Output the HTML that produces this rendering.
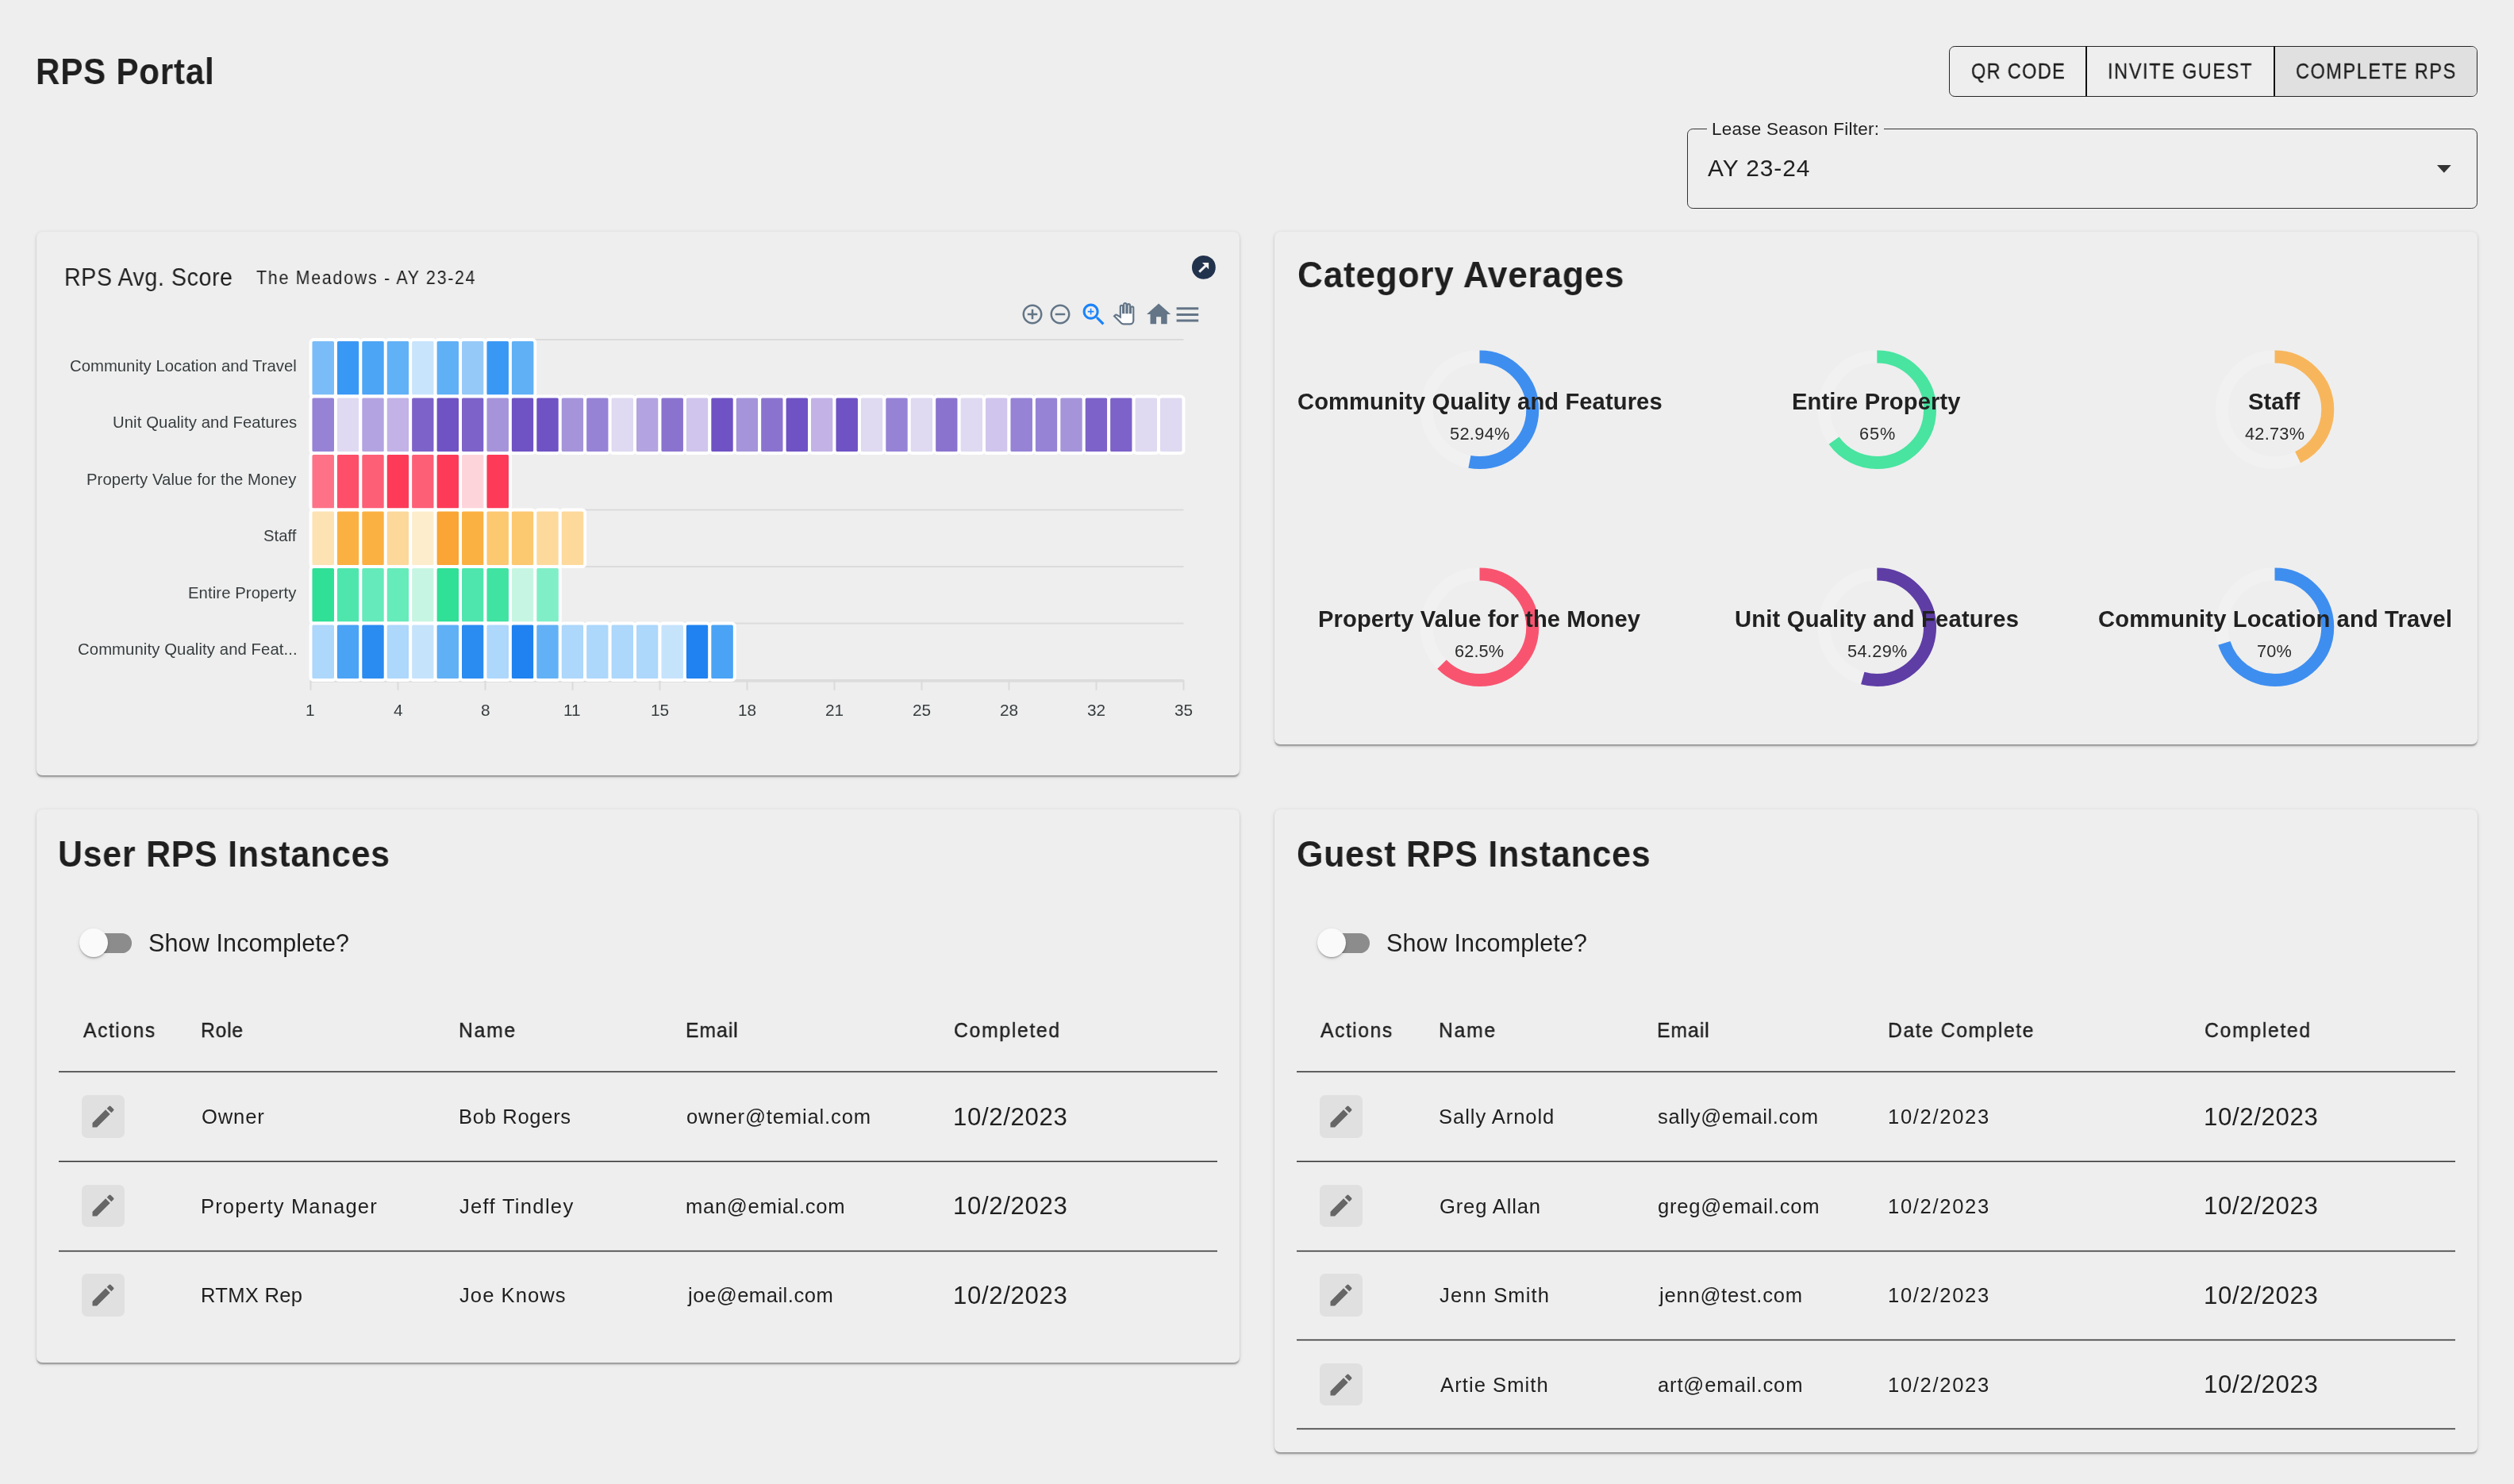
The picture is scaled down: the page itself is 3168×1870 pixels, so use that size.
<!DOCTYPE html>
<html><head><meta charset="utf-8"><title>RPS Portal</title>
<style>
html,body{margin:0;padding:0;width:3168px;height:1870px;overflow:hidden;background:#eeeeee;}
body{position:relative;font-family:"Liberation Sans",sans-serif;}
.t{position:absolute;white-space:nowrap;line-height:1;will-change:transform;}
</style></head><body>
<div style="position:absolute;left:46px;top:291.5px;width:1516px;height:685.0px;background:#eeeeee;border-radius:7.2px;box-shadow:0 3.6px 1.8px -1.8px rgba(0,0,0,.2),0 1.8px 1.8px 0 rgba(0,0,0,.14),0 1.8px 5.4px 0 rgba(0,0,0,.12);"></div>
<div style="position:absolute;left:1606px;top:291.5px;width:1516px;height:646.5px;background:#eeeeee;border-radius:7.2px;box-shadow:0 3.6px 1.8px -1.8px rgba(0,0,0,.2),0 1.8px 1.8px 0 rgba(0,0,0,.14),0 1.8px 5.4px 0 rgba(0,0,0,.12);"></div>
<div style="position:absolute;left:46px;top:1019.5px;width:1516px;height:697.0px;background:#eeeeee;border-radius:7.2px;box-shadow:0 3.6px 1.8px -1.8px rgba(0,0,0,.2),0 1.8px 1.8px 0 rgba(0,0,0,.14),0 1.8px 5.4px 0 rgba(0,0,0,.12);"></div>
<div style="position:absolute;left:1606px;top:1019.5px;width:1516px;height:810.5px;background:#eeeeee;border-radius:7.2px;box-shadow:0 3.6px 1.8px -1.8px rgba(0,0,0,.2),0 1.8px 1.8px 0 rgba(0,0,0,.14),0 1.8px 5.4px 0 rgba(0,0,0,.12);"></div>
<div class="t" style="left:44.90px;top:68.17px;font-size:45.78px;color:#1f1f1f;font-weight:bold;letter-spacing:0.855px;transform:scaleX(0.92);transform-origin:0 0;">RPS Portal</div>
<div style="position:absolute;left:2456.2px;top:57.6px;width:665.8px;height:64px;box-sizing:border-box;border:1.7px solid #262626;border-radius:7.2px;overflow:hidden;"><div style="position:absolute;left:409px;top:0;right:0;bottom:0;background:#e0e0e0"></div></div>
<div style="position:absolute;left:2627.9px;top:58px;width:2.1px;height:63.2px;background:#111"></div>
<div style="position:absolute;left:2864.9px;top:58px;width:2.1px;height:63.2px;background:#111"></div>
<div class="t" style="left:2483.80px;top:76.23px;font-size:27.33px;color:#1f1f1f;letter-spacing:1.574px;-webkit-text-stroke:0.3px #1f1f1f;transform:scaleX(0.86);transform-origin:0 0;">QR CODE</div>
<div class="t" style="left:2656.00px;top:76.23px;font-size:27.33px;color:#1f1f1f;letter-spacing:1.924px;-webkit-text-stroke:0.3px #1f1f1f;transform:scaleX(0.86);transform-origin:0 0;">INVITE GUEST</div>
<div class="t" style="left:2893.00px;top:76.23px;font-size:27.33px;color:#1f1f1f;letter-spacing:1.808px;-webkit-text-stroke:0.3px #1f1f1f;transform:scaleX(0.86);transform-origin:0 0;">COMPLETE RPS</div>
<div style="position:absolute;left:2126.2px;top:161.8px;width:995.8px;height:101px;box-sizing:border-box;border:1.7px solid #333;border-radius:7.2px;"></div>
<div style="position:absolute;left:2151px;top:158px;width:223px;height:8px;background:#eeeeee"></div>
<div class="t" style="left:2157.30px;top:151.80px;font-size:22.53px;color:#1f1f1f;letter-spacing:0.232px;">Lease Season Filter:</div>
<div class="t" style="left:2151.80px;top:196.51px;font-size:29.94px;color:#1f1f1f;letter-spacing:0.914px;">AY 23-24</div>
<svg style="position:absolute;left:3070.5px;top:208.3px" width="18" height="10" viewBox="0 0 18 10"><path d="M0 0h17.7L8.85 9.8z" fill="#333"/></svg>
<div class="t" style="left:81.40px;top:335.07px;font-size:30.81px;color:#1f1f1f;letter-spacing:0.585px;transform:scaleX(0.93);transform-origin:0 0;">RPS Avg. Score</div>
<div class="t" style="left:323.30px;top:338.58px;font-size:23.26px;color:#1f1f1f;letter-spacing:1.874px;transform:scaleX(0.92);transform-origin:0 0;">The Meadows - AY 23-24</div>
<svg style="position:absolute;left:1500px;top:320px" width="34" height="34" viewBox="1500 320 34 34"><circle cx="1516.9" cy="336.9" r="14.9" fill="#21324d"/><path d="M1514.9 331H1523.1V339.2z" fill="#f0f0f0"/><line x1="1519.6" y1="334.6" x2="1511.2" y2="342.6" stroke="#f0f0f0" stroke-width="3"/></svg>
<svg style="position:absolute;left:1285.50px;top:380.70px;overflow:visible" width="30.00" height="30.00" viewBox="0 0 24 24"><path d="M13 7h-2v4H7v2h4v4h2v-4h4v-2h-4V7zm-1-5C6.48 2 2 6.48 2 12s4.48 10 10 10 10-4.48 10-10S17.52 2 12 2zm0 18c-4.41 0-8-3.59-8-8s3.59-8 8-8 8 3.59 8 8-3.59 8-8 8z" fill="#637587" /></svg>
<svg style="position:absolute;left:1321.40px;top:380.70px;overflow:visible" width="30.00" height="30.00" viewBox="0 0 24 24"><path d="M7 11v2h10v-2H7zm5-9C6.48 2 2 6.48 2 12s4.48 10 10 10 10-4.48 10-10S17.52 2 12 2zm0 18c-4.41 0-8-3.59-8-8s3.59-8 8-8 8 3.59 8 8-3.59 8-8 8z" fill="#637587" /></svg>
<svg style="position:absolute;left:1360.40px;top:378.30px;overflow:visible" width="36.96" height="36.96" viewBox="0 0 24 24"><path d="M15.5 14h-.79l-.28-.27C15.41 12.59 16 11.11 16 9.5 16 5.910 13.09 3 9.5 3S3 5.91 3 9.5 5.91 16 9.5 16c1.61 0 3.09-.59 4.23-1.57l.27.28v.79l5 4.99L20.49 19l-4.99-5zm-6 0C7.01 14 5 11.99 5 9.5S7.01 5 9.5 5 14 7.01 14 9.5 11.99 14 9.5 14zM12 10h-2v2H9v-2H7V9h2V7h1v2h2v1z" fill="#1a83fa" /></svg>
<svg style="position:absolute;left:1402.90px;top:382.30px;overflow:visible" width="26.40" height="26.40" viewBox="0 0 24 24"><path d="M23 5.5V20c0 2.2-1.8 4-4 4h-7.3c-1.08 0-2.1-.43-2.85-1.190L1 14.83s1.26-1.23 1.3-1.25c.22-.19.49-.29.79-.29.22 0 .42.06.6.16.04.01 4.31 2.46 4.31 2.46V4c0-.83.67-1.5 1.5-1.5S11 3.17 11 4v7h1V1.5c0-.83.67-1.5 1.5-1.5S15 .67 15 1.5V11h1V2.5c0-.83.67-1.5 1.5-1.5s1.5.67 1.5 1.5V11h1V5.5c0-.83.67-1.5 1.5-1.5s1.5.67 1.5 1.5z" fill="#fff" stroke="#637587" stroke-width="2"/></svg>
<svg style="position:absolute;left:1441.90px;top:378.40px;overflow:visible" width="36.24" height="36.24" viewBox="0 0 24 24"><path d="M10 20v-6h4v6h5v-8h3L12 3 2 12h3v8z" fill="#637587" /></svg>
<svg style="position:absolute;left:1477.50px;top:378.40px;overflow:visible" width="36.84" height="36.84" viewBox="0 0 24 24"><path d="M3 18h18v-2H3v2zm0-5h18v-2H3v2zm0-7v2h18V6H3z" fill="#637587" /></svg>
<svg style="position:absolute;left:0;top:0" width="1600" height="1000" viewBox="0 0 1600 1000"><line x1="391.5" x2="1491.5" y1="428.0" y2="428.0" stroke="#dbdbdb" stroke-width="1.9"/><line x1="391.5" x2="1491.5" y1="499.5" y2="499.5" stroke="#dbdbdb" stroke-width="1.9"/><line x1="391.5" x2="1491.5" y1="571.0" y2="571.0" stroke="#dbdbdb" stroke-width="1.9"/><line x1="391.5" x2="1491.5" y1="642.5" y2="642.5" stroke="#dbdbdb" stroke-width="1.9"/><line x1="391.5" x2="1491.5" y1="714.0" y2="714.0" stroke="#dbdbdb" stroke-width="1.9"/><line x1="391.5" x2="1491.5" y1="785.5" y2="785.5" stroke="#dbdbdb" stroke-width="1.9"/><line x1="391.5" x2="1491.5" y1="857.0" y2="857.0" stroke="#dbdbdb" stroke-width="1.9"/><line x1="391.5" x2="1491.5" y1="858.7" y2="858.7" stroke="#dddddd" stroke-width="2"/><line x1="391.5" x2="391.5" y1="857.0" y2="869.8" stroke="#dbdbdb" stroke-width="2"/><line x1="501.5" x2="501.5" y1="857.0" y2="869.8" stroke="#dbdbdb" stroke-width="2"/><line x1="611.5" x2="611.5" y1="857.0" y2="869.8" stroke="#dbdbdb" stroke-width="2"/><line x1="721.5" x2="721.5" y1="857.0" y2="869.8" stroke="#dbdbdb" stroke-width="2"/><line x1="831.5" x2="831.5" y1="857.0" y2="869.8" stroke="#dbdbdb" stroke-width="2"/><line x1="941.5" x2="941.5" y1="857.0" y2="869.8" stroke="#dbdbdb" stroke-width="2"/><line x1="1051.5" x2="1051.5" y1="857.0" y2="869.8" stroke="#dbdbdb" stroke-width="2"/><line x1="1161.5" x2="1161.5" y1="857.0" y2="869.8" stroke="#dbdbdb" stroke-width="2"/><line x1="1271.5" x2="1271.5" y1="857.0" y2="869.8" stroke="#dbdbdb" stroke-width="2"/><line x1="1381.5" x2="1381.5" y1="857.0" y2="869.8" stroke="#dbdbdb" stroke-width="2"/><line x1="1491.5" x2="1491.5" y1="857.0" y2="869.8" stroke="#dbdbdb" stroke-width="2"/><rect x="391.50" y="428.00" width="31.43" height="71.50" rx="3.6" fill="#7abcf8" stroke="#fff" stroke-width="3.9"/><rect x="422.93" y="428.00" width="31.43" height="71.50" rx="3.6" fill="#3a98f5" stroke="#fff" stroke-width="3.9"/><rect x="454.36" y="428.00" width="31.43" height="71.50" rx="3.6" fill="#4da5f5" stroke="#fff" stroke-width="3.9"/><rect x="485.79" y="428.00" width="31.43" height="71.50" rx="3.6" fill="#61b1f6" stroke="#fff" stroke-width="3.9"/><rect x="517.21" y="428.00" width="31.43" height="71.50" rx="3.6" fill="#c8e4fc" stroke="#fff" stroke-width="3.9"/><rect x="548.64" y="428.00" width="31.43" height="71.50" rx="3.6" fill="#60b0f6" stroke="#fff" stroke-width="3.9"/><rect x="580.07" y="428.00" width="31.43" height="71.50" rx="3.6" fill="#95c9f8" stroke="#fff" stroke-width="3.9"/><rect x="611.50" y="428.00" width="31.43" height="71.50" rx="3.6" fill="#3a98f5" stroke="#fff" stroke-width="3.9"/><rect x="642.93" y="428.00" width="31.43" height="71.50" rx="3.6" fill="#60b0f6" stroke="#fff" stroke-width="3.9"/><rect x="391.50" y="499.50" width="31.43" height="71.50" rx="3.6" fill="#9683d6" stroke="#fff" stroke-width="3.9"/><rect x="422.93" y="499.50" width="31.43" height="71.50" rx="3.6" fill="#dfd9f1" stroke="#fff" stroke-width="3.9"/><rect x="454.36" y="499.50" width="31.43" height="71.50" rx="3.6" fill="#b3a3e0" stroke="#fff" stroke-width="3.9"/><rect x="485.79" y="499.50" width="31.43" height="71.50" rx="3.6" fill="#c2b2e6" stroke="#fff" stroke-width="3.9"/><rect x="517.21" y="499.50" width="31.43" height="71.50" rx="3.6" fill="#7d62c9" stroke="#fff" stroke-width="3.9"/><rect x="548.64" y="499.50" width="31.43" height="71.50" rx="3.6" fill="#6f52c4" stroke="#fff" stroke-width="3.9"/><rect x="580.07" y="499.50" width="31.43" height="71.50" rx="3.6" fill="#7d62c9" stroke="#fff" stroke-width="3.9"/><rect x="611.50" y="499.50" width="31.43" height="71.50" rx="3.6" fill="#a594da" stroke="#fff" stroke-width="3.9"/><rect x="642.93" y="499.50" width="31.43" height="71.50" rx="3.6" fill="#6f52c4" stroke="#fff" stroke-width="3.9"/><rect x="674.36" y="499.50" width="31.43" height="71.50" rx="3.6" fill="#6f52c4" stroke="#fff" stroke-width="3.9"/><rect x="705.79" y="499.50" width="31.43" height="71.50" rx="3.6" fill="#a594da" stroke="#fff" stroke-width="3.9"/><rect x="737.21" y="499.50" width="31.43" height="71.50" rx="3.6" fill="#9683d6" stroke="#fff" stroke-width="3.9"/><rect x="768.64" y="499.50" width="31.43" height="71.50" rx="3.6" fill="#dfd9f1" stroke="#fff" stroke-width="3.9"/><rect x="800.07" y="499.50" width="31.43" height="71.50" rx="3.6" fill="#b3a3e0" stroke="#fff" stroke-width="3.9"/><rect x="831.50" y="499.50" width="31.43" height="71.50" rx="3.6" fill="#8a73cf" stroke="#fff" stroke-width="3.9"/><rect x="862.93" y="499.50" width="31.43" height="71.50" rx="3.6" fill="#d0c5ec" stroke="#fff" stroke-width="3.9"/><rect x="894.36" y="499.50" width="31.43" height="71.50" rx="3.6" fill="#6f52c4" stroke="#fff" stroke-width="3.9"/><rect x="925.79" y="499.50" width="31.43" height="71.50" rx="3.6" fill="#a594da" stroke="#fff" stroke-width="3.9"/><rect x="957.21" y="499.50" width="31.43" height="71.50" rx="3.6" fill="#8a73cf" stroke="#fff" stroke-width="3.9"/><rect x="988.64" y="499.50" width="31.43" height="71.50" rx="3.6" fill="#6f52c4" stroke="#fff" stroke-width="3.9"/><rect x="1020.07" y="499.50" width="31.43" height="71.50" rx="3.6" fill="#c2b2e6" stroke="#fff" stroke-width="3.9"/><rect x="1051.50" y="499.50" width="31.43" height="71.50" rx="3.6" fill="#6f52c4" stroke="#fff" stroke-width="3.9"/><rect x="1082.93" y="499.50" width="31.43" height="71.50" rx="3.6" fill="#dfd9f1" stroke="#fff" stroke-width="3.9"/><rect x="1114.36" y="499.50" width="31.43" height="71.50" rx="3.6" fill="#9683d6" stroke="#fff" stroke-width="3.9"/><rect x="1145.79" y="499.50" width="31.43" height="71.50" rx="3.6" fill="#dfd9f1" stroke="#fff" stroke-width="3.9"/><rect x="1177.21" y="499.50" width="31.43" height="71.50" rx="3.6" fill="#8a73cf" stroke="#fff" stroke-width="3.9"/><rect x="1208.64" y="499.50" width="31.43" height="71.50" rx="3.6" fill="#dfd9f1" stroke="#fff" stroke-width="3.9"/><rect x="1240.07" y="499.50" width="31.43" height="71.50" rx="3.6" fill="#d0c5ec" stroke="#fff" stroke-width="3.9"/><rect x="1271.50" y="499.50" width="31.43" height="71.50" rx="3.6" fill="#9683d6" stroke="#fff" stroke-width="3.9"/><rect x="1302.93" y="499.50" width="31.43" height="71.50" rx="3.6" fill="#9683d6" stroke="#fff" stroke-width="3.9"/><rect x="1334.36" y="499.50" width="31.43" height="71.50" rx="3.6" fill="#a594da" stroke="#fff" stroke-width="3.9"/><rect x="1365.79" y="499.50" width="31.43" height="71.50" rx="3.6" fill="#7d62c9" stroke="#fff" stroke-width="3.9"/><rect x="1397.21" y="499.50" width="31.43" height="71.50" rx="3.6" fill="#7d62c9" stroke="#fff" stroke-width="3.9"/><rect x="1428.64" y="499.50" width="31.43" height="71.50" rx="3.6" fill="#dfd9f1" stroke="#fff" stroke-width="3.9"/><rect x="1460.07" y="499.50" width="31.43" height="71.50" rx="3.6" fill="#dfd9f1" stroke="#fff" stroke-width="3.9"/><rect x="391.50" y="571.00" width="31.43" height="71.50" rx="3.6" fill="#fd7287" stroke="#fff" stroke-width="3.9"/><rect x="422.93" y="571.00" width="31.43" height="71.50" rx="3.6" fill="#fd4f69" stroke="#fff" stroke-width="3.9"/><rect x="454.36" y="571.00" width="31.43" height="71.50" rx="3.6" fill="#fd5f77" stroke="#fff" stroke-width="3.9"/><rect x="485.79" y="571.00" width="31.43" height="71.50" rx="3.6" fill="#fd3b59" stroke="#fff" stroke-width="3.9"/><rect x="517.21" y="571.00" width="31.43" height="71.50" rx="3.6" fill="#fd5f77" stroke="#fff" stroke-width="3.9"/><rect x="548.64" y="571.00" width="31.43" height="71.50" rx="3.6" fill="#fd3b59" stroke="#fff" stroke-width="3.9"/><rect x="580.07" y="571.00" width="31.43" height="71.50" rx="3.6" fill="#fed4db" stroke="#fff" stroke-width="3.9"/><rect x="611.50" y="571.00" width="31.43" height="71.50" rx="3.6" fill="#fd3b59" stroke="#fff" stroke-width="3.9"/><rect x="391.50" y="642.50" width="31.43" height="71.50" rx="3.6" fill="#fde3b3" stroke="#fff" stroke-width="3.9"/><rect x="422.93" y="642.50" width="31.43" height="71.50" rx="3.6" fill="#fbb142" stroke="#fff" stroke-width="3.9"/><rect x="454.36" y="642.50" width="31.43" height="71.50" rx="3.6" fill="#fbb142" stroke="#fff" stroke-width="3.9"/><rect x="485.79" y="642.50" width="31.43" height="71.50" rx="3.6" fill="#fdd89b" stroke="#fff" stroke-width="3.9"/><rect x="517.21" y="642.50" width="31.43" height="71.50" rx="3.6" fill="#feedcc" stroke="#fff" stroke-width="3.9"/><rect x="548.64" y="642.50" width="31.43" height="71.50" rx="3.6" fill="#faa535" stroke="#fff" stroke-width="3.9"/><rect x="580.07" y="642.50" width="31.43" height="71.50" rx="3.6" fill="#fbb142" stroke="#fff" stroke-width="3.9"/><rect x="611.50" y="642.50" width="31.43" height="71.50" rx="3.6" fill="#fcc870" stroke="#fff" stroke-width="3.9"/><rect x="642.93" y="642.50" width="31.43" height="71.50" rx="3.6" fill="#fcc870" stroke="#fff" stroke-width="3.9"/><rect x="674.36" y="642.50" width="31.43" height="71.50" rx="3.6" fill="#fdd99c" stroke="#fff" stroke-width="3.9"/><rect x="705.79" y="642.50" width="31.43" height="71.50" rx="3.6" fill="#fdd99c" stroke="#fff" stroke-width="3.9"/><rect x="391.50" y="714.00" width="31.43" height="71.50" rx="3.6" fill="#2fe096" stroke="#fff" stroke-width="3.9"/><rect x="422.93" y="714.00" width="31.43" height="71.50" rx="3.6" fill="#4fe6ae" stroke="#fff" stroke-width="3.9"/><rect x="454.36" y="714.00" width="31.43" height="71.50" rx="3.6" fill="#64eabb" stroke="#fff" stroke-width="3.9"/><rect x="485.79" y="714.00" width="31.43" height="71.50" rx="3.6" fill="#66ebbb" stroke="#fff" stroke-width="3.9"/><rect x="517.21" y="714.00" width="31.43" height="71.50" rx="3.6" fill="#c6f6e3" stroke="#fff" stroke-width="3.9"/><rect x="548.64" y="714.00" width="31.43" height="71.50" rx="3.6" fill="#2fe096" stroke="#fff" stroke-width="3.9"/><rect x="580.07" y="714.00" width="31.43" height="71.50" rx="3.6" fill="#4fe6ae" stroke="#fff" stroke-width="3.9"/><rect x="611.50" y="714.00" width="31.43" height="71.50" rx="3.6" fill="#40e3a2" stroke="#fff" stroke-width="3.9"/><rect x="642.93" y="714.00" width="31.43" height="71.50" rx="3.6" fill="#c6f6e3" stroke="#fff" stroke-width="3.9"/><rect x="674.36" y="714.00" width="31.43" height="71.50" rx="3.6" fill="#80efc8" stroke="#fff" stroke-width="3.9"/><rect x="391.50" y="785.50" width="31.43" height="71.50" rx="3.6" fill="#add7fb" stroke="#fff" stroke-width="3.9"/><rect x="422.93" y="785.50" width="31.43" height="71.50" rx="3.6" fill="#4aa3f5" stroke="#fff" stroke-width="3.9"/><rect x="454.36" y="785.50" width="31.43" height="71.50" rx="3.6" fill="#2a8bf0" stroke="#fff" stroke-width="3.9"/><rect x="485.79" y="785.50" width="31.43" height="71.50" rx="3.6" fill="#add7fb" stroke="#fff" stroke-width="3.9"/><rect x="517.21" y="785.50" width="31.43" height="71.50" rx="3.6" fill="#c6e3fc" stroke="#fff" stroke-width="3.9"/><rect x="548.64" y="785.50" width="31.43" height="71.50" rx="3.6" fill="#60b0f6" stroke="#fff" stroke-width="3.9"/><rect x="580.07" y="785.50" width="31.43" height="71.50" rx="3.6" fill="#2a8bf0" stroke="#fff" stroke-width="3.9"/><rect x="611.50" y="785.50" width="31.43" height="71.50" rx="3.6" fill="#add7fb" stroke="#fff" stroke-width="3.9"/><rect x="642.93" y="785.50" width="31.43" height="71.50" rx="3.6" fill="#1f82f0" stroke="#fff" stroke-width="3.9"/><rect x="674.36" y="785.50" width="31.43" height="71.50" rx="3.6" fill="#62b1f6" stroke="#fff" stroke-width="3.9"/><rect x="705.79" y="785.50" width="31.43" height="71.50" rx="3.6" fill="#add7fb" stroke="#fff" stroke-width="3.9"/><rect x="737.21" y="785.50" width="31.43" height="71.50" rx="3.6" fill="#add7fb" stroke="#fff" stroke-width="3.9"/><rect x="768.64" y="785.50" width="31.43" height="71.50" rx="3.6" fill="#add7fb" stroke="#fff" stroke-width="3.9"/><rect x="800.07" y="785.50" width="31.43" height="71.50" rx="3.6" fill="#add7fb" stroke="#fff" stroke-width="3.9"/><rect x="831.50" y="785.50" width="31.43" height="71.50" rx="3.6" fill="#c6e3fc" stroke="#fff" stroke-width="3.9"/><rect x="862.93" y="785.50" width="31.43" height="71.50" rx="3.6" fill="#1f82f0" stroke="#fff" stroke-width="3.9"/><rect x="894.36" y="785.50" width="31.43" height="71.50" rx="3.6" fill="#4aa3f5" stroke="#fff" stroke-width="3.9"/></svg>
<div class="t" style="left:87.90px;top:450.79px;font-size:20.30px;color:#373d3f;letter-spacing:0.021px;">Community Location and Travel</div>
<div class="t" style="left:141.60px;top:522.29px;font-size:20.30px;color:#373d3f;letter-spacing:0.092px;">Unit Quality and Features</div>
<div class="t" style="left:108.70px;top:593.79px;font-size:20.30px;color:#373d3f;letter-spacing:0.074px;">Property Value for the Money</div>
<div class="t" style="left:331.70px;top:665.29px;font-size:20.30px;color:#373d3f;">Staff</div>
<div class="t" style="left:236.60px;top:736.79px;font-size:20.30px;color:#373d3f;letter-spacing:0.086px;">Entire Property</div>
<div class="t" style="left:98.30px;top:808.29px;font-size:20.30px;color:#373d3f;letter-spacing:0.100px;">Community Quality and Feat...</div>
<div class="t" style="left:385.00px;top:884.76px;font-size:20.80px;color:#373d3f;">1</div>
<div class="t" style="left:495.50px;top:884.76px;font-size:20.80px;color:#373d3f;">4</div>
<div class="t" style="left:605.50px;top:884.76px;font-size:20.80px;color:#373d3f;">8</div>
<div class="t" style="left:710.00px;top:884.76px;font-size:20.80px;color:#373d3f;">11</div>
<div class="t" style="left:819.50px;top:884.76px;font-size:20.80px;color:#373d3f;">15</div>
<div class="t" style="left:929.50px;top:884.76px;font-size:20.80px;color:#373d3f;">18</div>
<div class="t" style="left:1040.00px;top:884.76px;font-size:20.80px;color:#373d3f;">21</div>
<div class="t" style="left:1150.00px;top:884.76px;font-size:20.80px;color:#373d3f;">25</div>
<div class="t" style="left:1260.00px;top:884.76px;font-size:20.80px;color:#373d3f;">28</div>
<div class="t" style="left:1370.00px;top:884.76px;font-size:20.80px;color:#373d3f;">32</div>
<div class="t" style="left:1480.00px;top:884.76px;font-size:20.80px;color:#373d3f;">35</div>
<div class="t" style="left:1634.70px;top:324.42px;font-size:45.49px;color:#1f1f1f;font-weight:bold;letter-spacing:0.807px;transform:scaleX(0.97);transform-origin:0 0;">Category Averages</div>
<svg style="position:absolute;left:0;top:0" width="3168" height="1000" viewBox="0 0 3168 1000"><circle cx="1864.5" cy="516.3" r="66.75" fill="none" stroke="#f1f1f1" stroke-width="16"/><circle cx="1864.5" cy="516.3" r="66.75" fill="none" stroke="#3e8ef0" stroke-width="16" stroke-dasharray="222.03 419.40" transform="rotate(-90 1864.5 516.3)"/><circle cx="2365.3" cy="516.3" r="66.75" fill="none" stroke="#f1f1f1" stroke-width="16"/><circle cx="2365.3" cy="516.3" r="66.75" fill="none" stroke="#48e4a0" stroke-width="16" stroke-dasharray="272.61 419.40" transform="rotate(-90 2365.3 516.3)"/><circle cx="2866.5" cy="516.3" r="66.75" fill="none" stroke="#f1f1f1" stroke-width="16"/><circle cx="2866.5" cy="516.3" r="66.75" fill="none" stroke="#f8b65c" stroke-width="16" stroke-dasharray="179.21 419.40" transform="rotate(-90 2866.5 516.3)"/><circle cx="1864.5" cy="790.3" r="66.75" fill="none" stroke="#f1f1f1" stroke-width="16"/><circle cx="1864.5" cy="790.3" r="66.75" fill="none" stroke="#f85470" stroke-width="16" stroke-dasharray="262.13 419.40" transform="rotate(-90 1864.5 790.3)"/><circle cx="2365.3" cy="790.3" r="66.75" fill="none" stroke="#f1f1f1" stroke-width="16"/><circle cx="2365.3" cy="790.3" r="66.75" fill="none" stroke="#5e3da5" stroke-width="16" stroke-dasharray="227.69 419.40" transform="rotate(-90 2365.3 790.3)"/><circle cx="2866.5" cy="790.3" r="66.75" fill="none" stroke="#f1f1f1" stroke-width="16"/><circle cx="2866.5" cy="790.3" r="66.75" fill="none" stroke="#3e8ef0" stroke-width="16" stroke-dasharray="293.58 419.40" transform="rotate(-90 2866.5 790.3)"/></svg>
<div class="t" style="left:1634.75px;top:491.58px;font-size:29.15px;color:#212121;font-weight:bold;letter-spacing:0.103px;">Community Quality and Features</div>
<div class="t" style="left:1826.80px;top:536.10px;font-size:21.70px;color:#2b2b2b;letter-spacing:0.360px;">52.94%</div>
<div class="t" style="left:2258.05px;top:491.58px;font-size:29.15px;color:#212121;font-weight:bold;letter-spacing:0.143px;">Entire Property</div>
<div class="t" style="left:2342.85px;top:536.10px;font-size:21.70px;color:#2b2b2b;letter-spacing:0.900px;">65%</div>
<div class="t" style="left:2833.40px;top:491.58px;font-size:29.15px;color:#212121;font-weight:bold;letter-spacing:0.100px;">Staff</div>
<div class="t" style="left:2829.40px;top:536.10px;font-size:21.70px;color:#2b2b2b;letter-spacing:0.280px;">42.73%</div>
<div class="t" style="left:1660.80px;top:765.58px;font-size:29.15px;color:#212121;font-weight:bold;letter-spacing:0.104px;">Property Value for the Money</div>
<div class="t" style="left:1833.35px;top:810.10px;font-size:21.70px;color:#2b2b2b;letter-spacing:0.150px;">62.5%</div>
<div class="t" style="left:2186.05px;top:765.58px;font-size:29.15px;color:#212121;font-weight:bold;letter-spacing:0.208px;">Unit Quality and Features</div>
<div class="t" style="left:2327.60px;top:810.10px;font-size:21.70px;color:#2b2b2b;letter-spacing:0.360px;">54.29%</div>
<div class="t" style="left:2643.75px;top:765.58px;font-size:29.15px;color:#212121;font-weight:bold;letter-spacing:0.143px;">Community Location and Travel</div>
<div class="t" style="left:2844.40px;top:810.10px;font-size:21.70px;color:#2b2b2b;letter-spacing:0.200px;">70%</div>
<div class="t" style="left:73.00px;top:1052.93px;font-size:46.08px;color:#1f1f1f;font-weight:bold;letter-spacing:0.830px;transform:scaleX(0.93);transform-origin:0 0;">User RPS Instances</div>
<div style="position:absolute;left:103.5px;top:1176.45px;width:62.4px;height:24.7px;background:#8c8c8c;border-radius:12.35px;"></div>
<div style="position:absolute;left:100px;top:1169.8999999999999px;width:35.8px;height:35.8px;background:#fafafa;border-radius:50%;box-shadow:0 1.8px 1.8px -1px rgba(0,0,0,.2),0 1.8px 1.8px 0 rgba(0,0,0,.14),0 1.8px 5.4px 0 rgba(0,0,0,.12);"></div>
<div class="t" style="left:187.30px;top:1173.42px;font-size:30.52px;color:#1f1f1f;letter-spacing:0.133px;">Show Incomplete?</div>
<div class="t" style="left:104.50px;top:1285.30px;font-size:26.30px;color:#1f1f1f;letter-spacing:1.624px;-webkit-text-stroke:0.45px #1f1f1f;transform:scaleX(0.94);transform-origin:0 0;">Actions</div>
<div class="t" style="left:252.90px;top:1285.30px;font-size:26.30px;color:#1f1f1f;letter-spacing:0.794px;-webkit-text-stroke:0.45px #1f1f1f;transform:scaleX(0.94);transform-origin:0 0;">Role</div>
<div class="t" style="left:577.70px;top:1285.30px;font-size:26.30px;color:#1f1f1f;letter-spacing:1.844px;-webkit-text-stroke:0.45px #1f1f1f;transform:scaleX(0.94);transform-origin:0 0;">Name</div>
<div class="t" style="left:864.00px;top:1285.30px;font-size:26.30px;color:#1f1f1f;letter-spacing:1.053px;-webkit-text-stroke:0.45px #1f1f1f;transform:scaleX(0.94);transform-origin:0 0;">Email</div>
<div class="t" style="left:1201.60px;top:1285.30px;font-size:26.30px;color:#1f1f1f;letter-spacing:1.811px;-webkit-text-stroke:0.45px #1f1f1f;transform:scaleX(0.94);transform-origin:0 0;">Completed</div>
<svg style="position:absolute;left:74px;top:1347px" width="1460" height="8" viewBox="0 1347 1460 8"><rect x="0" y="1349.75" width="1460" height="1.5" fill="#2e2e2e"/></svg>
<div style="position:absolute;left:103.2px;top:1380.2px;width:53.8px;height:53.4px;background:#e0e0e0;border-radius:7px;"></div>
<svg style="position:absolute;left:112.10px;top:1388.90px" width="36" height="36" viewBox="0 0 24 24"><path d="M3 17.25V21h3.75L17.81 9.94l-3.75-3.75L3 17.25zM20.71 7.04c.39-.39.39-1.02 0-1.41l-2.34-2.34a.9959.9959 0 0 0-1.41 0l-1.83 1.83 3.75 3.75 1.83-1.83z" fill="#666"/></svg>
<div class="t" style="left:253.90px;top:1395.29px;font-size:25.60px;color:#1f1f1f;letter-spacing:0.850px;">Owner</div>
<div class="t" style="left:577.70px;top:1395.29px;font-size:25.60px;color:#1f1f1f;letter-spacing:0.667px;">Bob Rogers</div>
<div class="t" style="left:865.00px;top:1395.29px;font-size:25.60px;color:#1f1f1f;letter-spacing:0.840px;">owner@temial.com</div>
<div class="t" style="left:1200.60px;top:1391.74px;font-size:31.20px;color:#1f1f1f;letter-spacing:0.625px;">10/2/2023</div>
<svg style="position:absolute;left:74px;top:1460px" width="1460" height="8" viewBox="0 1460 1460 8"><rect x="0" y="1462.75" width="1460" height="1.5" fill="#2e2e2e"/></svg>
<div style="position:absolute;left:103.2px;top:1492.75px;width:53.8px;height:53.4px;background:#e0e0e0;border-radius:7px;"></div>
<svg style="position:absolute;left:112.10px;top:1501.45px" width="36" height="36" viewBox="0 0 24 24"><path d="M3 17.25V21h3.75L17.81 9.94l-3.75-3.75L3 17.25zM20.71 7.04c.39-.39.39-1.02 0-1.41l-2.34-2.34a.9959.9959 0 0 0-1.41 0l-1.83 1.83 3.75 3.75 1.83-1.83z" fill="#666"/></svg>
<div class="t" style="left:252.90px;top:1507.84px;font-size:25.60px;color:#1f1f1f;letter-spacing:1.120px;">Property Manager</div>
<div class="t" style="left:578.70px;top:1507.84px;font-size:25.60px;color:#1f1f1f;letter-spacing:1.291px;">Jeff Tindley</div>
<div class="t" style="left:864.00px;top:1507.84px;font-size:25.60px;color:#1f1f1f;letter-spacing:0.683px;">man@emial.com</div>
<div class="t" style="left:1200.60px;top:1504.29px;font-size:31.20px;color:#1f1f1f;letter-spacing:0.625px;">10/2/2023</div>
<svg style="position:absolute;left:74px;top:1573px" width="1460" height="8" viewBox="0 1573 1460 8"><rect x="0" y="1575.75" width="1460" height="1.5" fill="#2e2e2e"/></svg>
<div style="position:absolute;left:103.2px;top:1605.3px;width:53.8px;height:53.4px;background:#e0e0e0;border-radius:7px;"></div>
<svg style="position:absolute;left:112.10px;top:1614.00px" width="36" height="36" viewBox="0 0 24 24"><path d="M3 17.25V21h3.75L17.81 9.94l-3.75-3.75L3 17.25zM20.71 7.04c.39-.39.39-1.02 0-1.41l-2.34-2.34a.9959.9959 0 0 0-1.41 0l-1.83 1.83 3.75 3.75 1.83-1.83z" fill="#666"/></svg>
<div class="t" style="left:252.90px;top:1620.39px;font-size:25.60px;color:#1f1f1f;letter-spacing:0.286px;">RTMX Rep</div>
<div class="t" style="left:578.70px;top:1620.39px;font-size:25.60px;color:#1f1f1f;letter-spacing:1.050px;">Joe Knows</div>
<div class="t" style="left:867.00px;top:1620.39px;font-size:25.60px;color:#1f1f1f;letter-spacing:0.500px;">joe@email.com</div>
<div class="t" style="left:1200.60px;top:1616.84px;font-size:31.20px;color:#1f1f1f;letter-spacing:0.625px;">10/2/2023</div>
<div class="t" style="left:1634.20px;top:1052.93px;font-size:46.08px;color:#1f1f1f;font-weight:bold;letter-spacing:0.865px;transform:scaleX(0.93);transform-origin:0 0;">Guest RPS Instances</div>
<div style="position:absolute;left:1663.5px;top:1176.45px;width:62.4px;height:24.7px;background:#8c8c8c;border-radius:12.35px;"></div>
<div style="position:absolute;left:1660px;top:1169.8999999999999px;width:35.8px;height:35.8px;background:#fafafa;border-radius:50%;box-shadow:0 1.8px 1.8px -1px rgba(0,0,0,.2),0 1.8px 1.8px 0 rgba(0,0,0,.14),0 1.8px 5.4px 0 rgba(0,0,0,.12);"></div>
<div class="t" style="left:1747.30px;top:1173.42px;font-size:30.52px;color:#1f1f1f;letter-spacing:0.133px;">Show Incomplete?</div>
<div class="t" style="left:1664.00px;top:1285.30px;font-size:26.30px;color:#1f1f1f;letter-spacing:1.624px;-webkit-text-stroke:0.45px #1f1f1f;transform:scaleX(0.94);transform-origin:0 0;">Actions</div>
<div class="t" style="left:1813.10px;top:1285.30px;font-size:26.30px;color:#1f1f1f;letter-spacing:1.844px;-webkit-text-stroke:0.45px #1f1f1f;transform:scaleX(0.94);transform-origin:0 0;">Name</div>
<div class="t" style="left:2087.70px;top:1285.30px;font-size:26.30px;color:#1f1f1f;letter-spacing:1.053px;-webkit-text-stroke:0.45px #1f1f1f;transform:scaleX(0.94);transform-origin:0 0;">Email</div>
<div class="t" style="left:2378.50px;top:1285.30px;font-size:26.30px;color:#1f1f1f;letter-spacing:1.640px;-webkit-text-stroke:0.45px #1f1f1f;transform:scaleX(0.94);transform-origin:0 0;">Date Complete</div>
<div class="t" style="left:2777.60px;top:1285.30px;font-size:26.30px;color:#1f1f1f;letter-spacing:1.811px;-webkit-text-stroke:0.45px #1f1f1f;transform:scaleX(0.94);transform-origin:0 0;">Completed</div>
<svg style="position:absolute;left:1634px;top:1347px" width="1460" height="8" viewBox="0 1347 1460 8"><rect x="0" y="1349.75" width="1460" height="1.5" fill="#2e2e2e"/></svg>
<div style="position:absolute;left:1663.2px;top:1380.2px;width:53.8px;height:53.4px;background:#e0e0e0;border-radius:7px;"></div>
<svg style="position:absolute;left:1672.10px;top:1388.90px" width="36" height="36" viewBox="0 0 24 24"><path d="M3 17.25V21h3.75L17.81 9.94l-3.75-3.75L3 17.25zM20.71 7.04c.39-.39.39-1.02 0-1.41l-2.34-2.34a.9959.9959 0 0 0-1.41 0l-1.83 1.83 3.75 3.75 1.83-1.83z" fill="#666"/></svg>
<div class="t" style="left:1813.10px;top:1395.29px;font-size:25.60px;color:#1f1f1f;letter-spacing:0.927px;">Sally Arnold</div>
<div class="t" style="left:2088.70px;top:1395.29px;font-size:25.60px;color:#1f1f1f;letter-spacing:0.586px;">sally@email.com</div>
<div class="t" style="left:2378.50px;top:1395.29px;font-size:25.60px;color:#1f1f1f;letter-spacing:1.675px;">10/2/2023</div>
<div class="t" style="left:2776.60px;top:1391.74px;font-size:31.20px;color:#1f1f1f;letter-spacing:0.625px;">10/2/2023</div>
<svg style="position:absolute;left:1634px;top:1460px" width="1460" height="8" viewBox="0 1460 1460 8"><rect x="0" y="1462.75" width="1460" height="1.5" fill="#2e2e2e"/></svg>
<div style="position:absolute;left:1663.2px;top:1492.75px;width:53.8px;height:53.4px;background:#e0e0e0;border-radius:7px;"></div>
<svg style="position:absolute;left:1672.10px;top:1501.45px" width="36" height="36" viewBox="0 0 24 24"><path d="M3 17.25V21h3.75L17.81 9.94l-3.75-3.75L3 17.25zM20.71 7.04c.39-.39.39-1.02 0-1.41l-2.34-2.34a.9959.9959 0 0 0-1.41 0l-1.83 1.83 3.75 3.75 1.83-1.83z" fill="#666"/></svg>
<div class="t" style="left:1814.10px;top:1507.84px;font-size:25.60px;color:#1f1f1f;letter-spacing:0.844px;">Greg Allan</div>
<div class="t" style="left:2088.70px;top:1507.84px;font-size:25.60px;color:#1f1f1f;letter-spacing:0.754px;">greg@email.com</div>
<div class="t" style="left:2378.50px;top:1507.84px;font-size:25.60px;color:#1f1f1f;letter-spacing:1.675px;">10/2/2023</div>
<div class="t" style="left:2776.60px;top:1504.29px;font-size:31.20px;color:#1f1f1f;letter-spacing:0.625px;">10/2/2023</div>
<svg style="position:absolute;left:1634px;top:1573px" width="1460" height="8" viewBox="0 1573 1460 8"><rect x="0" y="1575.75" width="1460" height="1.5" fill="#2e2e2e"/></svg>
<div style="position:absolute;left:1663.2px;top:1605.3px;width:53.8px;height:53.4px;background:#e0e0e0;border-radius:7px;"></div>
<svg style="position:absolute;left:1672.10px;top:1614.00px" width="36" height="36" viewBox="0 0 24 24"><path d="M3 17.25V21h3.75L17.81 9.94l-3.75-3.75L3 17.25zM20.71 7.04c.39-.39.39-1.02 0-1.41l-2.34-2.34a.9959.9959 0 0 0-1.41 0l-1.83 1.83 3.75 3.75 1.83-1.83z" fill="#666"/></svg>
<div class="t" style="left:1814.10px;top:1620.39px;font-size:25.60px;color:#1f1f1f;letter-spacing:1.111px;">Jenn Smith</div>
<div class="t" style="left:2090.70px;top:1620.39px;font-size:25.60px;color:#1f1f1f;letter-spacing:0.750px;">jenn@test.com</div>
<div class="t" style="left:2378.50px;top:1620.39px;font-size:25.60px;color:#1f1f1f;letter-spacing:1.675px;">10/2/2023</div>
<div class="t" style="left:2776.60px;top:1616.84px;font-size:31.20px;color:#1f1f1f;letter-spacing:0.625px;">10/2/2023</div>
<svg style="position:absolute;left:1634px;top:1685px" width="1460" height="8" viewBox="0 1685 1460 8"><rect x="0" y="1687.75" width="1460" height="1.5" fill="#2e2e2e"/></svg>
<div style="position:absolute;left:1663.2px;top:1717.85px;width:53.8px;height:53.4px;background:#e0e0e0;border-radius:7px;"></div>
<svg style="position:absolute;left:1672.10px;top:1726.55px" width="36" height="36" viewBox="0 0 24 24"><path d="M3 17.25V21h3.75L17.81 9.94l-3.75-3.75L3 17.25zM20.71 7.04c.39-.39.39-1.02 0-1.41l-2.34-2.34a.9959.9959 0 0 0-1.41 0l-1.83 1.83 3.75 3.75 1.83-1.83z" fill="#666"/></svg>
<div class="t" style="left:1815.10px;top:1732.94px;font-size:25.60px;color:#1f1f1f;letter-spacing:1.060px;">Artie Smith</div>
<div class="t" style="left:2088.70px;top:1732.94px;font-size:25.60px;color:#1f1f1f;letter-spacing:0.833px;">art@email.com</div>
<div class="t" style="left:2378.50px;top:1732.94px;font-size:25.60px;color:#1f1f1f;letter-spacing:1.675px;">10/2/2023</div>
<div class="t" style="left:2776.60px;top:1729.39px;font-size:31.20px;color:#1f1f1f;letter-spacing:0.625px;">10/2/2023</div>
<svg style="position:absolute;left:1634px;top:1797px" width="1460" height="8" viewBox="0 1797 1460 8"><rect x="0" y="1799.75" width="1460" height="1.5" fill="#2e2e2e"/></svg>
</body></html>
